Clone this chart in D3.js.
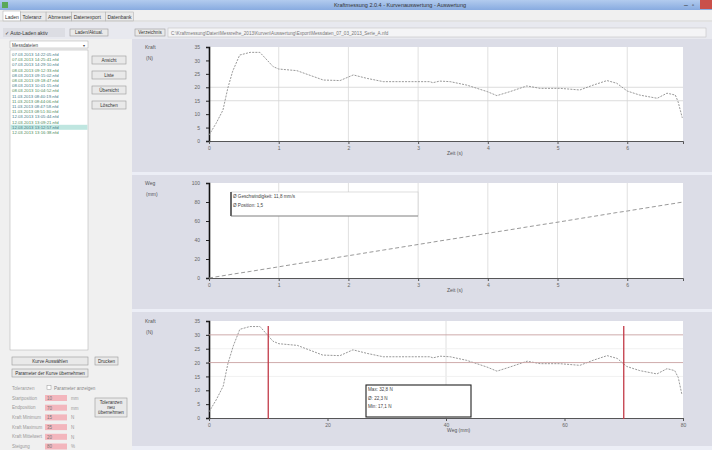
<!DOCTYPE html>
<html>
<head>
<meta charset="utf-8">
<script src="https://cdn.jsdelivr.net/npm/d3@7"></script>
<style>
  body { margin: 0; background: #f0f0f0; }
  svg { display: block; font-family: "Liberation Sans", "DejaVu Sans", sans-serif; }
  .tick text { fill: #666; font-size: 5px; }
</style>
</head>
<body>
<div id="app"></div>
<script>
// readings
const timeS = [0, 0.1, 0.2, 0.27, 0.34, 0.44, 0.59, 0.73, 0.92, 1.0, 1.26, 1.64, 1.88, 2.07, 2.27, 2.5, 2.84, 3.17, 3.21, 3.31, 3.46, 3.7, 3.99, 4.13, 4.32, 4.56, 4.75, 5.04, 5.32, 5.51, 5.71, 5.85, 6.0, 6.18, 6.43, 6.57, 6.69, 6.73, 6.79];
const forceN = [2.2, 6.5, 11.5, 19.7, 26, 32, 33, 33, 27.7, 26.8, 26.2, 22.7, 22.5, 24.6, 23.3, 22.1, 22.1, 22.1, 21.7, 22.3, 22.1, 20.8, 18.4, 16.9, 18.4, 20.5, 19.6, 19.6, 19, 20.8, 22.5, 21.5, 18.6, 17.1, 15.9, 17.8, 17.1, 14.6, 8.6];
const travelMm = [0, 1.2, 2.4, 3.2, 4.1, 5.2, 6.9, 8.6, 10.8, 11.8, 14.9, 19.2, 22.1, 24.3, 26.7, 29.4, 33.4, 37.3, 37.8, 39.0, 40.7, 43.5, 46.9, 48.6, 50.8, 53.7, 55.9, 59.2, 62.6, 64.8, 67.2, 68.9, 70.5, 72.7, 75.6, 77.3, 78.6, 79.2, 79.8];

const timeTicks = [0, 1, 2, 3, 4, 5, 6];
const forceTicks = [0, 5, 10, 15, 20, 25, 30, 35];
const travelTicks = [0, 20, 40, 60, 80, 100];
const mmTicks = [0, 20, 40, 60, 80];
const tolLines = [20, 30];
const markersMm = [10, 70];

const files = ["07.03.2013  14:22:05.nfd", "07.03.2013  14:25:41.nfd", "07.03.2013  14:29:10.nfd",
  "08.03.2013  09:12:33.nfd", "08.03.2013  09:15:02.nfd", "08.03.2013  09:18:47.nfd",
  "08.03.2013  10:01:15.nfd", "08.03.2013  10:04:52.nfd", "11.03.2013  08:40:19.nfd",
  "11.03.2013  08:44:06.nfd", "11.03.2013  08:47:58.nfd", "11.03.2013  08:51:30.nfd",
  "12.03.2013  13:05:44.nfd", "12.03.2013  13:09:21.nfd", "12.03.2013  13:12:57.nfd",
  "12.03.2013  13:16:38.nfd"];
const selectedFile = 14;

const tabs = ["Laden", "Toleranz", "Abmessen", "Datenexport", "Datenbank"];
const paramLabels = ["Startposition", "Endposition", "Kraft Minimum", "Kraft Maximum", "Kraft Mittelwert", "Steigung"];
const paramValues = ["10", "70", "15", "35", "20", "80"];
const paramUnits = ["mm", "mm", "N", "N", "N", "%"];

const W = 712, H = 450;
const svg = d3.select("#app").append("svg").attr("width", W).attr("height", H);

// ---------- window frame ----------
const defs = svg.append("defs");
const grad = defs.append("linearGradient").attr("id", "tb").attr("x1", 0).attr("x2", 0).attr("y1", 0).attr("y2", 1);
grad.append("stop").attr("offset", 0).attr("stop-color", "#b2cbee");
grad.append("stop").attr("offset", 1).attr("stop-color", "#88abe0");

svg.append("rect").attr("width", W).attr("height", H).attr("fill", "#f0f0f0");
svg.append("rect").attr("width", W).attr("height", 10).attr("fill", "url(#tb)");
svg.append("rect").attr("x", 2).attr("y", 2).attr("width", 6).attr("height", 6).attr("fill", "#5aa85a");
svg.append("text").attr("x", 400).attr("y", 7).attr("text-anchor", "middle").attr("font-size", 5.5).attr("fill", "#333")
  .text("Kraftmessung 2.0.4 - Kurvenauswertung - Auswertung");
svg.append("text").attr("x", 684).attr("y", 7).attr("font-size", 7).attr("fill", "#333").text("–");
svg.append("text").attr("x", 692).attr("y", 7).attr("font-size", 6).attr("fill", "#333").text("▫");
svg.append("rect").attr("x", 700).attr("y", 0).attr("width", 12).attr("height", 9).attr("fill", "#c9504a");

// tabs
let tx = 3;
tabs.forEach((t, i) => {
  const w = t.length * 2.7 + 4;
  svg.append("rect").attr("x", tx).attr("y", i === 0 ? 11 : 12).attr("width", w).attr("height", i === 0 ? 10 : 9)
    .attr("fill", i === 0 ? "#fff" : "#eaeaea").attr("stroke", "#aaa").attr("stroke-width", 0.5);
  svg.append("text").attr("x", tx + 2).attr("y", 18.5).attr("font-size", 5).attr("fill", "#333").text(t);
  tx += w;
});
svg.append("line").attr("x1", 0).attr("x2", W).attr("y1", 21).attr("y2", 21).attr("stroke", "#bbb").attr("stroke-width", 0.5);

// toolbar
svg.append("rect").attr("x", 0).attr("y", 22).attr("width", W).attr("height", 17).attr("fill", "#e8e9ef");
function button(x, y, w, h, label, lines) {
  svg.append("rect").attr("x", x).attr("y", y).attr("width", w).attr("height", h)
    .attr("fill", "#e9e9e9").attr("stroke", "#9a9a9a").attr("stroke-width", 0.6);
  const ls = lines || [label];
  ls.forEach((l, i) => {
    svg.append("text").attr("x", x + w / 2).attr("y", y + h / 2 + 1.8 + (i - (ls.length - 1) / 2) * 5)
      .attr("text-anchor", "middle").attr("font-size", 4.6).attr("fill", "#333").text(l);
  });
}
svg.append("rect").attr("x", 3).attr("y", 28).attr("width", 62).attr("height", 9).attr("fill", "#dcdde3");
svg.append("text").attr("x", 5).attr("y", 34.5).attr("font-size", 5).attr("fill", "#333").text("✓ Auto-Laden aktiv");
button(70, 29, 38, 7, "Laden/Aktual.");
button(135, 29, 30, 7, "Verzeichnis");
svg.append("rect").attr("x", 168).attr("y", 28).attr("width", 538).attr("height", 9).attr("fill", "#f4f4f6").attr("stroke", "#bbb").attr("stroke-width", 0.5);
svg.append("text").attr("x", 171).attr("y", 34.5).attr("font-size", 4.6).attr("fill", "#777")
  .text("C:\\Kraftmessung\\Daten\\Messreihe_2013\\Kurven\\Auswertung\\Export\\Messdaten_07_03_2013_Serie_A.nfd");

// ---------- left panel ----------
svg.append("rect").attr("x", 0).attr("y", 39).attr("width", 132).attr("height", H - 39).attr("fill", "#f0f0f0");
svg.append("rect").attr("x", 10).attr("y", 41).attr("width", 78).attr("height", 7).attr("fill", "#fff").attr("stroke", "#aaa").attr("stroke-width", 0.5);
svg.append("text").attr("x", 12).attr("y", 46.5).attr("font-size", 4.6).attr("fill", "#444").text("Messdateien");
svg.append("text").attr("x", 83).attr("y", 46.5).attr("font-size", 4).attr("fill", "#444").text("▾");
svg.append("rect").attr("x", 10).attr("y", 50).attr("width", 78).attr("height", 300).attr("fill", "#fff").attr("stroke", "#aaa").attr("stroke-width", 0.5);
files.forEach((f, i) => {
  const y = 52 + i * 5.2;
  if (i === selectedFile) svg.append("rect").attr("x", 10.5).attr("y", y).attr("width", 77).attr("height", 5).attr("fill", "#bfe6e0");
  svg.append("text").attr("x", 12).attr("y", y + 4).attr("font-size", 4.3).attr("fill", i % 2 ? "#4d8a5a" : "#3f7a86").text(f);
});
button(92, 56, 34, 8, "Ansicht");
button(92, 71, 34, 8, "Liste");
button(92, 86, 34, 8, "Übersicht");
button(92, 101, 34, 8, "Löschen");

button(12, 357, 76, 8, "Kurve Auswählen");
button(95, 357, 23, 8, "Drucken");
button(12, 369, 76, 8, "Parameter der Kurve übernehmen");
svg.append("text").attr("x", 12).attr("y", 390).attr("font-size", 4.6).attr("fill", "#999").text("Toleranzen");
svg.append("rect").attr("x", 47).attr("y", 385.5).attr("width", 4).attr("height", 4).attr("fill", "#fff").attr("stroke", "#999").attr("stroke-width", 0.5);
svg.append("text").attr("x", 54).attr("y", 390).attr("font-size", 4.6).attr("fill", "#888").text("Parameter anzeigen");
paramLabels.forEach((l, i) => {
  const y = 395 + i * 9.7;
  svg.append("text").attr("x", 12).attr("y", y + 4.5).attr("font-size", 4.5).attr("fill", "#999").text(l);
  svg.append("rect").attr("x", 45).attr("y", y).attr("width", 22).attr("height", 6).attr("fill", "#f3b6bd");
  svg.append("text").attr("x", 47).attr("y", y + 4.8).attr("font-size", 4.5).attr("fill", "#777").text(paramValues[i]);
  svg.append("text").attr("x", 71).attr("y", y + 4.8).attr("font-size", 4.5).attr("fill", "#999").text(paramUnits[i]);
});
button(95, 398, 32, 19, "", ["Toleranzen", "neu", "übernehmen"]);

// ---------- chart area ----------
svg.append("rect").attr("x", 132).attr("y", 39).attr("width", W - 132).attr("height", H - 39).attr("fill", "#dcdde7");
svg.append("rect").attr("x", 132).attr("y", 172).attr("width", W - 132).attr("height", 3).attr("fill", "#eceef6");
svg.append("rect").attr("x", 132).attr("y", 309).attr("width", W - 132).attr("height", 3).attr("fill", "#eceef6");
svg.append("rect").attr("x", 132).attr("y", 446).attr("width", W - 132).attr("height", 4).attr("fill", "#eceef6");

function chart(cfg) {
  const x = d3.scaleLinear().domain(cfg.xDomain).range([209, 683]);
  const y = d3.scaleLinear().domain(cfg.yDomain).range([cfg.bottom, cfg.top]);
  const g = svg.append("g");
  g.append("rect").attr("x", 209).attr("y", cfg.top).attr("width", 474).attr("height", cfg.bottom - cfg.top).attr("fill", "#fff");

  g.selectAll(".vg").data(cfg.vGrid).join("line")
    .attr("x1", d => x(d)).attr("x2", d => x(d)).attr("y1", cfg.top).attr("y2", cfg.bottom)
    .attr("stroke", "#d8d8d8").attr("stroke-width", 0.8);
  g.selectAll(".hg").data(cfg.hGrid).join("line")
    .attr("x1", 209).attr("x2", 683).attr("y1", d => y(d)).attr("y2", d => y(d))
    .attr("stroke", cfg.hGridColor).attr("stroke-width", 0.8);

  const ya = g.append("g").attr("transform", "translate(209,0)")
    .call(d3.axisLeft(y).tickValues(cfg.yTicks).tickFormat(d3.format("d")).tickSize(3).tickPadding(6));
  ya.select(".domain").attr("stroke", "#111").attr("stroke-width", 1.6);
  ya.selectAll(".tick line").attr("stroke", "#222");
  const xa = g.append("g").attr("transform", `translate(0,${cfg.bottom})`)
    .call(d3.axisBottom(x).tickValues(cfg.xTicks).tickFormat(d3.format("d")).tickSize(3).tickPadding(2));
  xa.select(".domain").attr("stroke", "#333").attr("stroke-width", 0.8);
  xa.selectAll(".tick line").attr("stroke", "#555");

  g.append("text").attr("x", 447).attr("y", cfg.bottom + 14).attr("font-size", 5).attr("fill", "#555").text(cfg.xTitle);
  g.append("text").attr("x", 145).attr("y", cfg.top + 2).attr("font-size", 5).attr("fill", "#555").text(cfg.unit[0]);
  g.append("text").attr("x", 146).attr("y", cfg.top + 13).attr("font-size", 5).attr("fill", "#555").text(cfg.unit[1]);

  const line = d3.line().x((d, i) => x(cfg.xs[i])).y(d => y(d));
  g.append("path").datum(cfg.ys).attr("d", line).attr("fill", "none")
    .attr("stroke", "#8d8d8d").attr("stroke-width", 0.9).attr("stroke-dasharray", cfg.dash);
  return { g, x, y };
}

// chart 1: force over time
chart({
  top: 47, bottom: 141, xDomain: [0, 6.8], yDomain: [0, 35],
  xTicks: timeTicks, yTicks: forceTicks, vGrid: timeTicks.slice(1), hGrid: [15, 20], hGridColor: "#d4d4d4",
  xs: timeS, ys: forceN, dash: "2,1.2", xTitle: "Zeit (s)", unit: ["Kraft", "(N)"]
});

// chart 2: travel over time
const c2 = chart({
  top: 183, bottom: 278, xDomain: [0, 6.8], yDomain: [0, 100],
  xTicks: timeTicks, yTicks: travelTicks, vGrid: timeTicks.slice(1), hGrid: [], hGridColor: "#ddd",
  xs: timeS, ys: travelMm, dash: "4,2.5", xTitle: "Zeit (s)", unit: ["Weg", "(mm)"]
});
c2.g.append("rect").attr("x", 231).attr("y", 192).attr("width", 187).attr("height", 24)
  .attr("fill", "#fff").attr("stroke", "#c8c8c8").attr("stroke-width", 0.6);
c2.g.append("line").attr("x1", 231).attr("x2", 231).attr("y1", 192).attr("y2", 216).attr("stroke", "#222").attr("stroke-width", 1.3);
c2.g.append("line").attr("x1", 231).attr("x2", 418).attr("y1", 216).attr("y2", 216).attr("stroke", "#777").attr("stroke-width", 0.8);
c2.g.append("text").attr("x", 233).attr("y", 197.5).attr("font-size", 4.6).attr("fill", "#444").text("Ø Geschwindigkeit: 11,8 mm/s");
c2.g.append("text").attr("x", 233).attr("y", 207).attr("font-size", 4.6).attr("fill", "#444").text("Ø Position: 1,5");

// chart 3: force over travel
const c3 = chart({
  top: 321, bottom: 418, xDomain: [0, 80], yDomain: [0, 35],
  xTicks: mmTicks, yTicks: forceTicks, vGrid: [40], hGrid: [15, 25], hGridColor: "#eeeeee",
  xs: travelMm, ys: forceN, dash: "2,1.2", xTitle: "Weg (mm)", unit: ["Kraft", "(N)"]
});
c3.g.selectAll(".tol").data(tolLines).join("line")
  .attr("x1", 209).attr("x2", 683).attr("y1", d => c3.y(d)).attr("y2", d => c3.y(d))
  .attr("stroke", "#c9a3a3").attr("stroke-width", 0.9);
c3.g.selectAll(".mk").data(markersMm).join("line")
  .attr("x1", d => c3.x(d)).attr("x2", d => c3.x(d)).attr("y1", 326).attr("y2", 419)
  .attr("stroke", "#c23a48").attr("stroke-width", 1.3);
c3.g.append("rect").attr("x", 366).attr("y", 385).attr("width", 105).attr("height", 32)
  .attr("fill", "#fff").attr("stroke", "#222").attr("stroke-width", 1.1);
["Max: 32,8 N", "Ø: 22,3 N", "Min: 17,1 N"].forEach((t, i) => {
  c3.g.append("text").attr("x", 368).attr("y", 391 + i * 8.5).attr("font-size", 4.6).attr("fill", "#444").text(t);
});
</script>
</body>
</html>
